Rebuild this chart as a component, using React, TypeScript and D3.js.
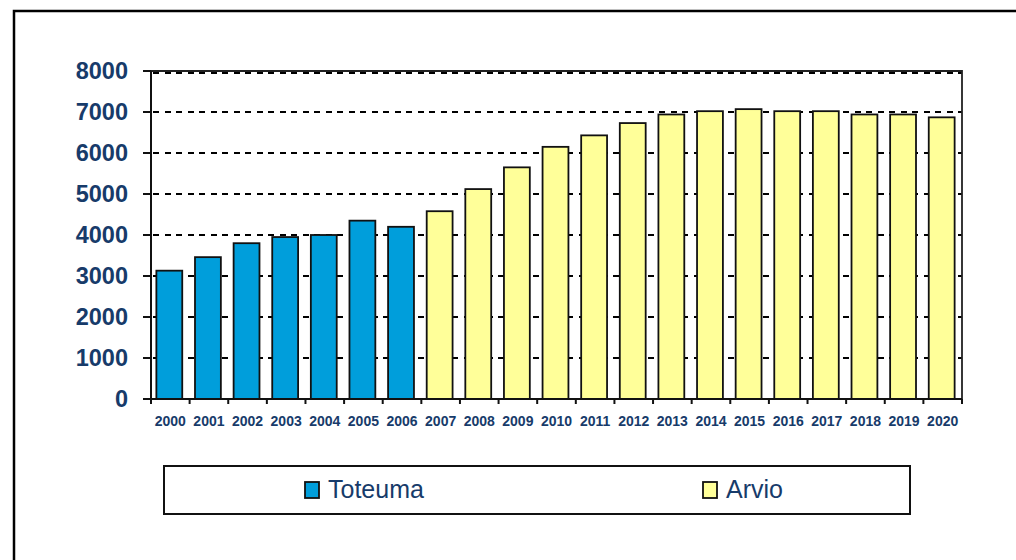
import * as d3 from "d3"
import { useEffect, useRef } from "react"

const actualYears = ["2000", "2001", "2002", "2003", "2004", "2005", "2006"]
const actualValues = [3130, 3460, 3800, 3950, 4000, 4350, 4200]
const forecastYears = [
  "2007", "2008", "2009", "2010", "2011", "2012", "2013",
  "2014", "2015", "2016", "2017", "2018", "2019", "2020",
]
const forecastValues = [4580, 5120, 5650, 6150, 6430, 6730, 6940, 7020, 7070, 7020, 7020, 6940, 6940, 6870]
const yTicks = [0, 1000, 2000, 3000, 4000, 5000, 6000, 7000, 8000]
const seriesNames = ["Toteuma", "Arvio"]

const BLUE = "#009EDB"
const YELLOW = "#FFFF99"
const TEXT = "#173B6A"

export default function App() {
  const ref = useRef<SVGSVGElement>(null)

  useEffect(() => {
    if (!ref.current) return
    const svg = d3.select(ref.current)
    svg.selectAll("*").remove()

    const left = 151
    const right = 962
    const top = 71
    const bottom = 399

    const data = [
      ...actualYears.map((y, i) => ({ year: y, value: actualValues[i], series: 0 })),
      ...forecastYears.map((y, i) => ({ year: y, value: forecastValues[i], series: 1 })),
    ]

    const x = d3
      .scaleBand()
      .domain(data.map((d) => d.year))
      .range([left, right])
    const y = d3.scaleLinear().domain([0, 8000]).range([bottom, top])
    const barW = x.bandwidth() * 0.67

    // outer frame (runs off the right and bottom edges)
    svg
      .append("path")
      .attr("d", `M14,1000 L14,11 L1100,11`)
      .attr("fill", "none")
      .attr("stroke", "#000")
      .attr("stroke-width", 2.5)

    // gridlines
    svg
      .append("g")
      .selectAll("line")
      .data(yTicks.filter((t) => t > 0))
      .enter()
      .append("line")
      .attr("x1", left + 2)
      .attr("x2", right)
      .attr("y1", (d) => Math.round(y(d)) + (d === 8000 ? 2 : 0))
      .attr("y2", (d) => Math.round(y(d)) + (d === 8000 ? 2 : 0))
      .attr("stroke", "#000")
      .attr("stroke-width", 2.5)
      .attr("stroke-dasharray", "6,5.5")
      .attr("shape-rendering", "crispEdges")

    // plot frame top & right
    svg
      .append("path")
      .attr("d", `M${left},${top} L${right},${top} L${right},${bottom}`)
      .attr("fill", "none")
      .attr("stroke", "#222")
      .attr("stroke-width", 1.8)

    // bars
    svg
      .append("g")
      .selectAll("rect")
      .data(data)
      .enter()
      .append("rect")
      .attr("x", (d) => x(d.year)! + (x.bandwidth() - barW) / 2 - 1)
      .attr("y", (d) => y(d.value))
      .attr("width", barW)
      .attr("height", (d) => bottom - y(d.value))
      .attr("fill", (d) => (d.series === 0 ? BLUE : YELLOW))
      .attr("stroke", "#111")
      .attr("stroke-width", 1.8)

    // y axis
    const yAxis = svg.append("g")
    yAxis
      .append("line")
      .attr("x1", left)
      .attr("x2", left)
      .attr("y1", top)
      .attr("y2", bottom + 5)
      .attr("stroke", "#111")
      .attr("stroke-width", 2)
    yAxis
      .selectAll(".yt")
      .data(yTicks)
      .enter()
      .append("line")
      .attr("x1", left - 8)
      .attr("x2", left)
      .attr("y1", (d) => y(d))
      .attr("y2", (d) => y(d))
      .attr("stroke", "#111")
      .attr("stroke-width", 2)
    yAxis
      .selectAll("text")
      .data(yTicks)
      .enter()
      .append("text")
      .attr("x", 128)
      .attr("y", (d) => y(d) + 8)
      .attr("text-anchor", "end")
      .attr("font-family", "'Liberation Sans', Arial, sans-serif")
      .attr("font-weight", "bold")
      .attr("font-size", 23.5)
      .attr("fill", TEXT)
      .text((d) => String(d))

    // x axis
    const xAxis = svg.append("g")
    xAxis
      .append("line")
      .attr("x1", left)
      .attr("x2", right)
      .attr("y1", bottom)
      .attr("y2", bottom)
      .attr("stroke", "#111")
      .attr("stroke-width", 2)
    const boundaries = [...data.map((d) => x(d.year)!), right]
    xAxis
      .selectAll(".xt")
      .data(boundaries)
      .enter()
      .append("line")
      .attr("x1", (d) => d)
      .attr("x2", (d) => d)
      .attr("y1", bottom)
      .attr("y2", bottom + 5)
      .attr("stroke", "#111")
      .attr("stroke-width", 2)
    xAxis
      .selectAll("text")
      .data(data)
      .enter()
      .append("text")
      .attr("x", (d) => x(d.year)! + x.bandwidth() / 2)
      .attr("y", 426)
      .attr("text-anchor", "middle")
      .attr("font-family", "'Liberation Sans', Arial, sans-serif")
      .attr("font-weight", "bold")
      .attr("font-size", 14)
      .attr("fill", TEXT)
      .text((d) => d.year)

    // legend
    const legend = svg.append("g")
    legend
      .append("rect")
      .attr("x", 164)
      .attr("y", 466)
      .attr("width", 746)
      .attr("height", 48)
      .attr("fill", "#fff")
      .attr("stroke", "#111")
      .attr("stroke-width", 2)
    const items = [
      { name: seriesNames[0], color: BLUE, x: 305 },
      { name: seriesNames[1], color: YELLOW, x: 703 },
    ]
    items.forEach((it) => {
      legend
        .append("rect")
        .attr("x", it.x)
        .attr("y", 482)
        .attr("width", 14)
        .attr("height", 16)
        .attr("fill", it.color)
        .attr("stroke", "#111")
        .attr("stroke-width", 1.8)
      legend
        .append("text")
        .attr("x", it.x + 23)
        .attr("y", 498)
        .attr("font-family", "'Liberation Sans', Arial, sans-serif")
        .attr("font-size", 25)
        .attr("fill", TEXT)
        .text(it.name)
    })
  }, [])

  return (
    <svg
      ref={ref}
      width={1016}
      height={560}
      style={{ position: "absolute", left: 0, top: 0, background: "#fff" }}
    />
  )
}
